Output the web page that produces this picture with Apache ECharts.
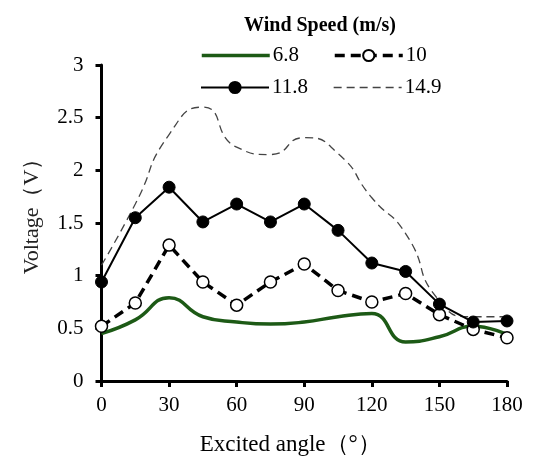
<!DOCTYPE html>
<html>
<head>
<meta charset="utf-8">
<script src="https://cdn.jsdelivr.net/npm/echarts@6/dist/echarts.min.js"></script>
<style>html,body{margin:0;padding:0;background:#fff;}#c{width:538px;height:464px;}</style>
</head>
<body>
<div id="c"></div>
<script>
const angles = [0, 15, 30, 45, 60, 75, 90, 105, 120, 135, 150, 165, 180];
const seriesNames = ['6.8', '10', '11.8', '14.9'];
const v68  = [0.45, 0.58, 0.79, 0.61, 0.56, 0.54, 0.56, 0.61, 0.64, 0.37, 0.42, 0.52, 0.44];
const v10  = [0.52, 0.74, 1.29, 0.94, 0.72, 0.94, 1.11, 0.86, 0.75, 0.83, 0.63, 0.49, 0.41];
const v118 = [0.94, 1.55, 1.84, 1.51, 1.68, 1.51, 1.68, 1.43, 1.12, 1.04, 0.73, 0.56, 0.57];
const v149 = [1.10, 1.68, 2.34, 2.60, 2.22, 2.15, 2.31, 2.16, 1.74, 1.40, 0.76, 0.61, 0.61];
const xTicks = [0, 30, 60, 90, 120, 150, 180];
const yTicks = [0, 0.5, 1, 1.5, 2, 2.5, 3];
const legendTitle = 'Wind Speed (m/s)';
const xTitle = 'Excited angle（°）';
const yTitle = 'Voltage（V）';

const pairs = v => angles.map((a, i) => [a, v[i]]);
const font = '"Liberation Serif", "Times New Roman", serif';
const txt = {fontFamily: font, fontSize: 21, color: '#000'};

const lineStyles = [
  {color: '#1d5a16', width: 3.5},
  {color: '#000', width: 3.5, type: [10, 6]},
  {color: '#000', width: 2},
  {color: '#444', width: 1.3, type: [8, 5]}
];

const chart = echarts.init(document.getElementById('c'), null, {renderer: 'canvas'});
function leg(i, left, top, noSymbol) {
  const item = {name: seriesNames[i], lineStyle: lineStyles[i]};
  if (noSymbol) item.itemStyle = {opacity: 0};
  return {
    data: [item], left: left, top: top, orient: 'horizontal',
    itemWidth: 68, itemHeight: 14, itemGap: 0, padding: 0,
    textStyle: Object.assign({}, txt, {padding: [0, 0, 0, -2]}),
    selectedMode: false
  };
}
chart.setOption({
  animation: false,
  backgroundColor: '#fff',
  title: {
    text: legendTitle, left: 315, top: 11, textAlign: 'center',
    textStyle: {fontFamily: font, fontSize: 20, fontWeight: 600, color: '#000'}
  },
  legend: [
    leg(0, 200, 45, true),
    leg(1, 333, 45, false),
    leg(2, 200, 77, false),
    leg(3, 333, 77, true)
  ],
  grid: {left: 101.5, right: 31, top: 65, bottom: 83, containLabel: false},
  xAxis: {
    type: 'value', min: 0, max: 180, interval: 30,
    name: xTitle, nameLocation: 'middle', nameGap: 52,
    nameTextStyle: Object.assign({}, txt, {fontSize: 23, padding: [0, 28, 0, 0]}),
    axisLine: {lineStyle: {color: '#000', width: 3}},
    axisTick: {show: true, inside: false, length: 6, lineStyle: {color: '#000', width: 3}},
    axisLabel: Object.assign({}, txt, {margin: 14, formatter: v => xTicks.includes(v) ? String(v) : ''}),
    splitLine: {show: false}
  },
  yAxis: {
    type: 'value', min: 0, max: 3, interval: 0.5,
    name: yTitle, nameLocation: 'middle', nameGap: 58, nameRotate: 90,
    nameTextStyle: Object.assign({}, txt, {fontSize: 22, color: '#222', padding: [0, 0, 0, 24]}),
    axisLine: {show: true, lineStyle: {color: '#000', width: 3}},
    axisTick: {show: true, inside: false, length: 6, lineStyle: {color: '#000', width: 3}},
    axisLabel: Object.assign({}, txt, {margin: 18, formatter: v => yTicks.includes(v) ? String(v) : ''}),
    splitLine: {show: false}
  },
  series: [
    {
      name: seriesNames[0], type: 'line', data: pairs(v68), smooth: 0.5,
      symbol: 'none', showSymbol: false,
      lineStyle: lineStyles[0], itemStyle: {color: '#1d5a16'}, z: 2
    },
    {
      name: seriesNames[1], type: 'line', data: pairs(v10),
      symbol: 'circle', symbolSize: 12, showSymbol: true,
      lineStyle: lineStyles[1],
      itemStyle: {color: '#fff', borderColor: '#000', borderWidth: 1.5}, z: 3
    },
    {
      name: seriesNames[2], type: 'line', data: pairs(v118),
      symbol: 'circle', symbolSize: 12, showSymbol: true,
      lineStyle: lineStyles[2],
      itemStyle: {color: '#000', borderColor: '#000', borderWidth: 1}, z: 4
    },
    {
      name: seriesNames[3], type: 'line', data: pairs(v149), smooth: 0.6,
      symbol: 'none', showSymbol: false,
      lineStyle: lineStyles[3], itemStyle: {color: '#444'}, z: 1
    }
  ]
});
</script>
</body>
</html>
